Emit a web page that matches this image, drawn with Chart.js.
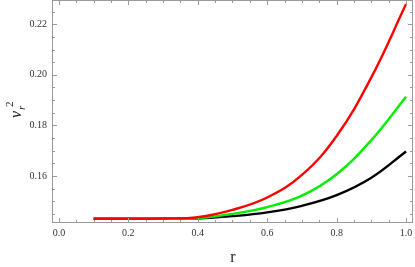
<!DOCTYPE html>
<html>
<head>
<meta charset="utf-8">
<script src="https://cdn.jsdelivr.net/npm/chart.js@4/dist/chart.umd.min.js"></script>
<style>
  html, body { margin: 0; padding: 0; background: #fff; }
  #wrap { width: 415px; height: 267px; position: relative; }
</style>
</head>
<body>
<div id="wrap"><canvas id="c"></canvas></div>
<script>
// data
const rValues = [0.1, 0.2, 0.3, 0.4, 0.5, 0.6, 0.7, 0.8, 0.9, 1.0];
const redSeries = [0.1431, 0.1431, 0.1432, 0.1437, 0.1466, 0.1515, 0.1604, 0.1758, 0.1990, 0.2280];
const greenSeries = [0.1431, 0.1431, 0.1431, 0.1433, 0.1450, 0.1477, 0.1522, 0.1607, 0.1742, 0.1913];
const blackSeries = [0.1431, 0.1431, 0.1431, 0.1432, 0.1441, 0.1456, 0.1482, 0.1524, 0.1593, 0.1697];

const xTicks = [0.0, 0.2, 0.4, 0.6, 0.8, 1.0];
const yTicks = [0.16, 0.18, 0.20, 0.22];
const xMinorStep = 0.05;
const yMinorStep = 0.005;

const serif = '"Liberation Serif", "DejaVu Serif", serif';

function pts(ys){ return rValues.map((r, i) => ({x: r, y: ys[i]})); }

// frame + inward ticks on all four sides, and the axis titles
const framePlugin = {
  id: 'frame',
  afterDraw(chart){
    const ctx = chart.ctx, a = chart.chartArea;
    const xs = chart.scales.x, ys = chart.scales.y;
    ctx.save();
    ctx.strokeStyle = '#9a9a9a';
    ctx.lineWidth = 1;
    ctx.strokeRect(a.left + 0.5, a.top + 0.5, a.right - a.left - 1, a.bottom - a.top - 1);

    ctx.beginPath();
    for (let v = 0; v <= 1.0001; v += xMinorStep) {
      const px = Math.round(xs.getPixelForValue(v)) + 0.5;
      const major = xTicks.some(t => Math.abs(t - v) < 1e-6);
      const len = major ? 5 : 3;
      ctx.moveTo(px, a.bottom); ctx.lineTo(px, a.bottom - len);
      ctx.moveTo(px, a.top); ctx.lineTo(px, a.top + len);
    }
    for (let v = 0.145; v <= 0.2296; v += yMinorStep) {
      const py = Math.round(ys.getPixelForValue(v)) + 0.5;
      const major = yTicks.some(t => Math.abs(t - v) < 1e-6);
      const len = major ? 5 : 3;
      ctx.moveTo(a.left, py); ctx.lineTo(a.left + len, py);
      ctx.moveTo(a.right, py); ctx.lineTo(a.right - len, py);
    }
    ctx.stroke();

    // x title
    ctx.fillStyle = '#222';
    ctx.font = '16px ' + serif;
    ctx.textAlign = 'center';
    ctx.textBaseline = 'middle';
    ctx.fillText('r', 233, 258);

    // y title: v_r^2, rotated
    ctx.translate(17, 112);
    ctx.rotate(-Math.PI / 2);
    ctx.textAlign = 'left';
    ctx.textBaseline = 'alphabetic';
    ctx.font = 'italic 16px ' + serif;
    ctx.fillText('v', -6, 4);
    ctx.font = 'italic 11px ' + serif;
    ctx.fillText('r', 2, 8);
    ctx.font = '11px ' + serif;
    ctx.fillText('2', 5, -4);
    ctx.restore();
  }
};

const lineStyle = { borderWidth: 2.4, pointRadius: 0, fill: false, tension: 0.4 };

function noPad(s){ s.paddingTop = 0; s.paddingBottom = 0; s.paddingLeft = 0; s.paddingRight = 0; }

new Chart(document.getElementById('c'), {
  type: 'line',
  data: {
    datasets: [
      Object.assign({ label: 'red', data: pts(redSeries), borderColor: '#ff0000' }, lineStyle),
      Object.assign({ label: 'green', data: pts(greenSeries), borderColor: '#00ee00' }, lineStyle),
      Object.assign({ label: 'black', data: pts(blackSeries), borderColor: '#000000' }, lineStyle)
    ]
  },
  options: {
    responsive: true,
    maintainAspectRatio: false,
    animation: false,
    layout: { padding: { top: 0, right: 2, left: 0, bottom: 0 } },
    plugins: { legend: { display: false }, tooltip: { enabled: false } },
    scales: {
      x: {
        type: 'linear', min: -0.02, max: 1.02,
        grid: { display: false, drawTicks: false },
        border: { display: false },
        afterBuildTicks: s => { s.ticks = xTicks.map(v => ({ value: v })); },
        afterFit: s => { s.height = 44; noPad(s); },
        ticks: {
          padding: 4, color: '#333',
          font: { family: serif, size: 10 },
          callback: v => v.toFixed(1)
        }
      },
      y: {
        type: 'linear', min: 0.1414, max: 0.2296,
        grid: { display: false, drawTicks: false },
        border: { display: false },
        afterBuildTicks: s => { s.ticks = yTicks.map(v => ({ value: v })); },
        afterFit: s => { s.width = 52; noPad(s); },
        ticks: {
          padding: 5, color: '#333',
          font: { family: serif, size: 10 },
          callback: v => v.toFixed(2)
        }
      }
    }
  },
  plugins: [framePlugin]
});
</script>
</body>
</html>
